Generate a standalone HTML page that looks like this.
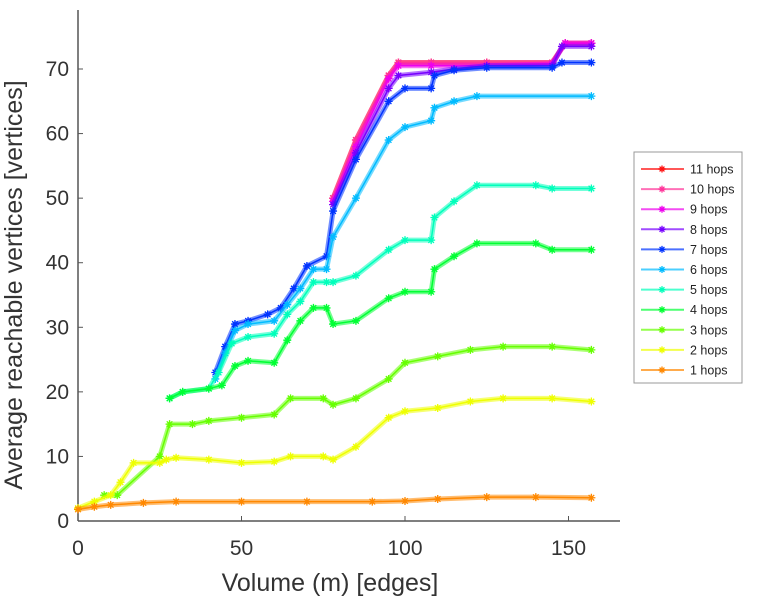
<!DOCTYPE html>
<html><head><meta charset="utf-8"><style>
body{margin:0;background:#fff}
svg text{font-family:"Liberation Sans",sans-serif}
</style></head><body>
<svg id="chart" width="757" height="600" xmlns="http://www.w3.org/2000/svg">
<g id="axes"></g><g id="plot"></g><g id="legend"></g>
</svg>
<script>
const seriesNames=["11 hops","10 hops","9 hops","8 hops","7 hops","6 hops","5 hops","4 hops","3 hops","2 hops","1 hops"];
const seriesColors=["#ff1010","#ff3399","#ee00ee","#7700ff","#0033ff","#00bbff","#00ffbb","#00ff33","#66ff00","#eeff00","#ff8800"];
const xTicks=[0,50,100,150];
const yTicks=[0,10,20,30,40,50,60,70];
const s1x=[0,5,10,20,30,50,70,90,100,110,125,140,157];
const s1y=[1.8,2.2,2.5,2.8,3,3,3,3,3.1,3.4,3.7,3.7,3.6];
const s2x=[0,5,10,13,17,25,27,30,40,50,60,65,75,78,85,95,100,110,120,130,145,157];
const s2y=[2,3,4,6,9,9,9.5,9.8,9.5,9,9.2,10,10,9.5,11.5,16,17,17.5,18.5,19,19,18.5];
const s3x=[8,12,25,28,35,40,50,60,65,75,78,85,95,100,110,120,130,145,157];
const s3y=[4,4,10,15,15,15.5,16,16.5,19,19,18,19,22,24.5,25.5,26.5,27,27,26.5];
const s4x=[28,32,40,44,48,52,60,64,68,72,76,78,85,95,100,108,109,115,122,140,145,157];
const s4y=[19,20,20.5,21,24,24.8,24.5,28,31,33,33,30.5,31,34.5,35.5,35.5,39,41,43,43,42,42];
const s5x=[28,32,40,43,47,52,60,64,68,72,76,78,85,95,100,108,109,115,122,140,145,157];
const s5y=[19,20,20.5,23,27.5,28.5,29,32,34,37,37,37,38,42,43.5,43.5,47,49.5,52,52,51.5,51.5];
const s6x=[42,45,48,52,60,64,68,72,76,78,85,95,100,108,109,115,122,157];
const s6y=[22,26,29.5,30.5,31,33.5,36,39,39,44,50,59,61,62,64,65,65.8,65.8];
const s7x=[42,45,48,52,58,62,66,70,76,78,85,95,100,108,109,115,125,145,148,157];
const s7y=[23,27,30.5,31,32,33,36,39.5,41,48,56,65,67,67,69,69.8,70.2,70.2,71,71];
const s8x=[78,85,95,98,108,115,125,145,148,157];
const s8y=[49,57,67,69,69.5,70,70.5,70.5,73.5,73.5];
const s9x=[78,85,95,98,108,125,145,149,157];
const s9y=[49.5,58,68.5,70.5,70.5,70.5,70.8,74,74];
const s10x=[78,85,95,98,108,125,145,149,157];
const s10y=[50,59,69,71,71,71,71,74,74];
const s11x=[78,85,95,98,108,125,145,149,157];
const s11y=[50,59,69,71,71,71,71,74,74];
const allX=[s11x,s10x,s9x,s8x,s7x,s6x,s5x,s4x,s3x,s2x,s1x];
const allY=[s11y,s10y,s9y,s8y,s7y,s6y,s5y,s4y,s3y,s2y,s1y];

const NS="http://www.w3.org/2000/svg";
const X0=78,XR=620,Y0=521,YT=10;
const xs=v=>X0+v*3.27;
const ys=v=>Y0-v*6.457;
function mk(t,a,p){const e=document.createElementNS(NS,t);for(const k in a)e.setAttribute(k,a[k]);p.appendChild(e);return e;}
const axes=document.getElementById('axes'),plot=document.getElementById('plot'),leg=document.getElementById('legend');
const xa=mk('line',{x1:X0,y1:Y0,x2:XR,y2:Y0,stroke:'#555','stroke-width':1.5},axes);


const ya=mk('line',{x1:X0,y1:Y0,x2:X0,y2:YT,stroke:'#555','stroke-width':1.5},axes);


xTicks.forEach(v=>{mk('line',{x1:xs(v),y1:Y0,x2:xs(v),y2:Y0-5,stroke:'#555'},axes);
 const t=mk('text',{x:xs(v),y:Y0+34,'font-size':21,'text-anchor':'middle',fill:'#333'},axes);t.textContent=v;
 
 });
yTicks.forEach(v=>{mk('line',{x1:X0,y1:ys(v),x2:X0+5,y2:ys(v),stroke:'#555'},axes);
 const t=mk('text',{x:X0-9,y:ys(v)+7,'font-size':21,'text-anchor':'end',fill:'#333'},axes);t.textContent=v;
 
 });
const xt=mk('text',{x:330,y:591,'font-size':25,'text-anchor':'middle',fill:'#333'},axes);xt.textContent='Volume (m) [edges]';


const yt=mk('text',{x:0,y:0,'font-size':25,'text-anchor':'middle',fill:'#333',transform:'translate(22,285) rotate(-90)'},axes);yt.textContent='Average reachable vertices [vertices]';


function star(cx,cy,c,p,r){const d=`M${cx-r},${cy}h${2*r}M${cx},${cy-r}v${2*r}M${cx-r*.7},${cy-r*.7}l${1.4*r},${1.4*r}M${cx-r*.7},${cy+r*.7}l${1.4*r},${-1.4*r}`;return mk('path',{d:d,stroke:c,'stroke-width':1.3,fill:'none'},p);}
for(let i=0;i<allX.length;i++){
 const g=mk('g',{},plot);
 
 
 const pts=allX[i].map((x,j)=>xs(x)+','+ys(allY[i][j])).join(' ');
 mk('polyline',{points:pts,fill:'none',stroke:seriesColors[i],'stroke-width':5,'stroke-opacity':0.55,'stroke-linejoin':'round'},g);
 mk('polyline',{points:pts,fill:'none',stroke:seriesColors[i],'stroke-width':1.5},g);
 allX[i].forEach((x,j)=>star(xs(x),ys(allY[i][j]),seriesColors[i],g,4));
}
const box=mk('rect',{x:634,y:152,width:108,height:231,fill:'#fff',stroke:'#999'},leg);


seriesNames.forEach((n,i)=>{const y=169+i*20.1;const g=mk('g',{},leg);
 
 
 mk('line',{x1:641,y1:y,x2:684,y2:y,stroke:seriesColors[i],'stroke-width':2,'stroke-opacity':0.7},g);
 star(662,y,seriesColors[i],g,3.5);
 const t=mk('text',{x:690,y:y+4.5,'font-size':12.5,fill:'#222'},g);t.textContent=n;});
</script>
</body></html>
